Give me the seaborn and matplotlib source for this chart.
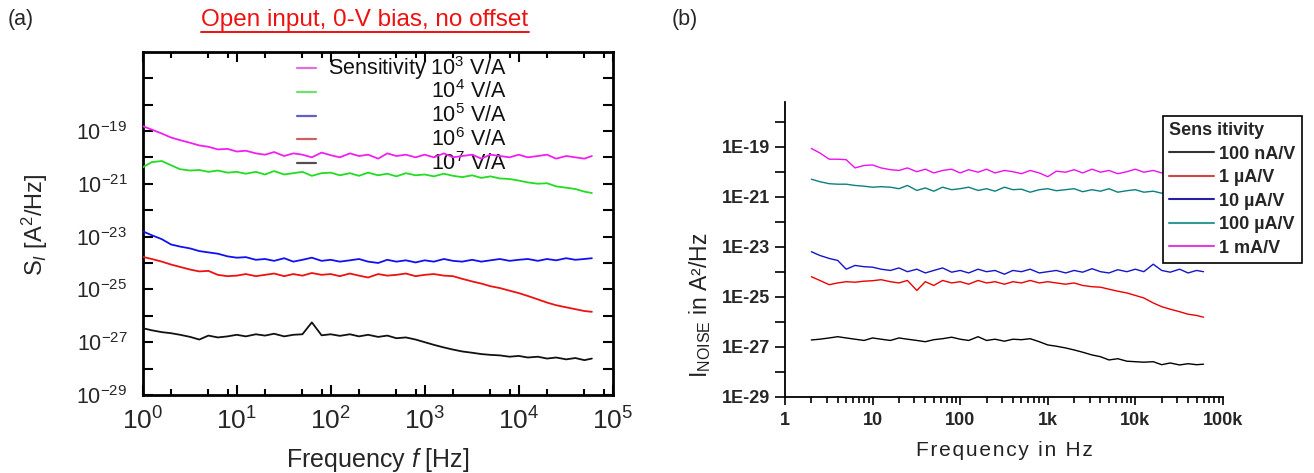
import numpy as np
import matplotlib
matplotlib.use("Agg")
import matplotlib.pyplot as plt
import seaborn as sns
from matplotlib.lines import Line2D
from matplotlib.ticker import FixedLocator, NullLocator, NullFormatter

# ---------------- data (log10 of spectral density) ----------------
FREQ = [1, 1.25, 1.6, 2, 2.5, 3.2, 4, 5, 6.3, 8,
        10, 12.5, 16, 20, 25, 32, 40, 50, 63, 80,
        100, 125, 160, 200, 250, 320, 400, 500, 630, 800,
        1000, 1250, 1600, 2000, 2500, 3200, 4000, 5000, 6300, 8000,
        10000, 12500, 16000, 20000, 25000, 32000, 40000, 50000, 60000]

# panel (a)
A_1E3 = [-18.82, -18.95, -19.1, -19.25, -19.35, -19.45, -19.55, -19.6, -19.7, -19.68,
         -19.78, -19.75, -19.85, -19.9, -19.8, -19.95, -19.85, -19.9, -20.0, -19.82,
         -19.92, -20.0, -19.85, -19.95, -19.9, -20.05, -19.85, -19.95, -19.9, -20.0,
         -19.9, -20.0, -19.85, -20.0, -19.95, -19.9, -20.05, -19.9, -19.95, -20.0,
         -19.9, -20.0, -19.95, -19.9, -20.05, -19.95, -20.0, -20.05, -19.95]
A_1E4 = [-20.38, -20.18, -20.14, -20.3, -20.45, -20.5, -20.48, -20.55, -20.5, -20.58,
         -20.55, -20.62, -20.55, -20.65, -20.52, -20.65, -20.6, -20.55, -20.7, -20.6,
         -20.58, -20.68, -20.6, -20.7, -20.58, -20.68, -20.62, -20.72, -20.6, -20.68,
         -20.65, -20.72, -20.62, -20.7, -20.75, -20.68, -20.78, -20.72, -20.8, -20.82,
         -20.88, -20.95, -21.0, -20.98, -21.1, -21.15, -21.2, -21.3, -21.35]
A_1E5 = [-22.8, -22.95, -23.1, -23.3, -23.38, -23.45, -23.55, -23.6, -23.65, -23.75,
         -23.8, -23.78, -23.88, -23.85, -23.92, -23.82, -23.95, -23.88, -23.8, -23.92,
         -23.88, -23.95, -23.9, -23.85, -23.95, -24.0, -23.88, -23.95, -23.9, -23.98,
         -23.9, -23.95, -23.85, -23.92, -23.95, -23.88, -23.95, -23.9, -23.85, -23.92,
         -23.88, -23.85, -23.92, -23.85, -23.9, -23.82, -23.88, -23.85, -23.82]
A_1E6 = [-23.77, -23.85, -23.95, -24.06, -24.15, -24.25, -24.32, -24.3, -24.45, -24.5,
         -24.48, -24.42, -24.5, -24.45, -24.4, -24.5, -24.42, -24.48, -24.38, -24.45,
         -24.42, -24.5, -24.4, -24.48, -24.55, -24.42, -24.48, -24.45, -24.4, -24.5,
         -24.45, -24.42, -24.48, -24.5, -24.6, -24.7, -24.78, -24.88, -24.95, -25.05,
         -25.14, -25.25, -25.38, -25.5, -25.6, -25.68, -25.75, -25.82, -25.85]
A_1E7 = [-26.47, -26.55, -26.62, -26.66, -26.72, -26.8, -26.9, -26.75, -26.82, -26.78,
         -26.72, -26.78, -26.7, -26.75, -26.68, -26.78, -26.72, -26.7, -26.25, -26.74,
         -26.7, -26.76, -26.7, -26.78, -26.72, -26.8, -26.75, -26.85, -26.82, -26.9,
         -27.0, -27.1, -27.2, -27.28, -27.35, -27.4, -27.45, -27.48, -27.5, -27.55,
         -27.52, -27.58, -27.55, -27.62, -27.58, -27.65, -27.6, -27.68, -27.62]
A_LABELS = ["Sensitivity $10^3$ V/A", "$10^4$ V/A", "$10^5$ V/A", "$10^6$ V/A", "$10^7$ V/A"]
A_COLORS = ["#f020f0", "#22dd22", "#1010f0", "#ee1111", "#111111"]
A_LEG_COLORS = ["#e070e0", "#70e070", "#6060c8", "#d06060", "#505050"]
A_YTICK_EXP = list(range(-29, -16))
A_YLABEL_EXP = [-29, -27, -25, -23, -21, -19]

# panel (b) (starts at 2 Hz)
FREQ_B = FREQ[3:]
B_100N = [-26.73, -26.7, -26.65, -26.6, -26.65, -26.7, -26.75,
          -26.65, -26.7, -26.75, -26.65, -26.7, -26.75, -26.8, -26.72, -26.68, -26.62,
          -26.7, -26.75, -26.6, -26.75, -26.7, -26.78, -26.7, -26.72, -26.68, -26.8,
          -26.93, -26.98, -27.05, -27.13, -27.22, -27.33, -27.4, -27.53, -27.48, -27.58,
          -27.6, -27.62, -27.6, -27.72, -27.65, -27.73, -27.68, -27.72, -27.7]
B_1U = [-24.2, -24.35, -24.52, -24.45, -24.4, -24.42, -24.38,
        -24.36, -24.32, -24.4, -24.45, -24.35, -24.75, -24.4, -24.55, -24.35, -24.45,
        -24.4, -24.5, -24.35, -24.45, -24.4, -24.5, -24.4, -24.45, -24.35, -24.45,
        -24.4, -24.45, -24.5, -24.45, -24.55, -24.6, -24.62, -24.7, -24.78, -24.85,
        -24.95, -25.05, -25.25, -25.4, -25.5, -25.6, -25.7, -25.75, -25.82]
B_10U = [-23.2, -23.35, -23.47, -23.55, -23.9, -23.75, -23.8,
         -23.82, -23.9, -23.95, -23.85, -24.0, -23.9, -24.05, -23.95, -23.85, -24.02,
         -23.95, -24.05, -23.9, -24.0, -23.95, -24.1, -23.95, -24.0, -23.9, -24.05,
         -24.0, -23.95, -24.05, -23.95, -24.02, -23.88, -24.0, -24.05, -23.92, -24.0,
         -23.9, -24.0, -23.7, -23.95, -24.02, -23.9, -24.05, -23.95, -24.0]
B_100U = [-20.3, -20.4, -20.48, -20.5, -20.5, -20.55, -20.58,
          -20.62, -20.6, -20.62, -20.68, -20.55, -20.75, -20.65, -20.78, -20.62, -20.72,
          -20.68, -20.62, -20.75, -20.68, -20.78, -20.62, -20.72, -20.7, -20.82, -20.72,
          -20.68, -20.76, -20.72, -20.68, -20.8, -20.72, -20.78, -20.68, -20.82, -20.76,
          -20.72, -20.82, -20.78, -20.86, -20.8, -20.85, -20.82, -20.86, -20.88]
B_1M = [-19.07, -19.25, -19.5, -19.5, -19.52, -19.85, -19.75,
        -19.73, -19.85, -19.92, -19.95, -19.85, -20.0, -19.9, -20.05, -19.95, -19.9,
        -20.05, -19.92, -20.02, -19.9, -20.05, -19.95, -20.0, -20.08, -19.95, -20.05,
        -20.2, -19.98, -20.02, -19.92, -20.05, -19.9, -20.02, -19.95, -20.08, -20.0,
        -19.9, -20.02, -19.95, -20.05, -19.95, -20.02, -19.92, -20.0, -20.05]
B_LABELS = ["100 nA/V", "1 \u00b5A/V", "10 \u00b5A/V", "100 \u00b5A/V", "1 mA/V"]
B_COLORS = ["#000000", "#ee0000", "#1515c8", "#0a8080", "#ee10ee"]
B_LEG_COLORS = ["#333333", "#d44444", "#2222a8", "#339999", "#e040e0"]
B_YTICKS = [1e-29, 1e-27, 1e-25, 1e-23, 1e-21, 1e-19]
B_YLABELS = ["1E-29", "1E-27", "1E-25", "1E-23", "1E-21", "1E-19"]
B_XTICKS = [1, 10, 100, 1000, 10000, 100000]
B_XLABELS = ["1", "10", "100", "1k", "10k", "100k"]

# ---------------- style ----------------
sns.set_style("ticks")
plt.rcParams["font.family"] = ["Liberation Sans", "DejaVu Sans"]
plt.rcParams["mathtext.fontset"] = "custom"
plt.rcParams["mathtext.rm"] = "Liberation Sans"
plt.rcParams["mathtext.it"] = "Liberation Sans:italic"
plt.rcParams["mathtext.bf"] = "Liberation Sans:bold"

fig = plt.figure(figsize=(13.14, 4.73), dpi=100)

# ================= panel (a) =================
axa = fig.add_axes([0.1086, 0.1649, 0.3577, 0.7258])
for vals, col in zip([A_1E3, A_1E4, A_1E5, A_1E6, A_1E7], A_COLORS):
    sns.lineplot(x=FREQ, y=10.0 ** np.array(vals), ax=axa, color=col, lw=1.3,
                 legend=False, sort=False, estimator=None, zorder=3)
axa.set_xscale("log")
axa.set_yscale("log")
axa.set_xlim(1, 1e5)
axa.set_ylim(1e-29, 1e-16)
for sp in axa.spines.values():
    sp.set_linewidth(2.0)
    sp.set_color("black")
axa.set_xticks([1, 10, 100, 1e3, 1e4, 1e5],
               ["$10^{0}$", "$10^{1}$", "$10^{2}$", "$10^{3}$", "$10^{4}$", "$10^{5}$"])
axa.xaxis.set_minor_locator(FixedLocator([m * d for d in [1, 10, 100, 1e3, 1e4] for m in (2, 5, 8)]))
axa.xaxis.set_minor_formatter(NullFormatter())
yt = [10.0 ** e for e in A_YTICK_EXP]
ylab = [("$10^{%d}$" % e) if e in A_YLABEL_EXP else "" for e in A_YTICK_EXP]
axa.set_yticks(yt, ylab)
axa.yaxis.set_minor_locator(NullLocator())
axa.tick_params(which="both", direction="in", top=True, right=True, width=1.5, color="black")
axa.tick_params(which="major", length=7)
axa.tick_params(which="minor", length=4)
axa.tick_params(axis="x", labelsize=19, pad=9)
axa.tick_params(axis="y", labelsize=15.5, pad=11)
axa.set_xlabel("Frequency $f$ [Hz]", fontsize=18)
axa.xaxis.set_label_coords(0.50, -0.149)
axa.set_ylabel("S$_{\\mathit{I}}$ [A$^2$/Hz]", fontsize=17)
axa.yaxis.set_label_coords(-0.197, 0.495)

# manual gnuplot-style key (right-justified labels)
key_rows = [0.9516, 0.8835, 0.8136, 0.7448, 0.6749]
for y, lab, col in zip(key_rows, A_LABELS, A_LEG_COLORS):
    axa.add_line(Line2D([0.328, 0.369], [y, y], transform=axa.transAxes, color=col, lw=1.6, zorder=2))
    axa.text(0.7745, y, lab, transform=axa.transAxes, ha="right", va="center",
             fontsize=15.5, color="#111111", zorder=1.5)

fig.text(21 / 1314, 1 - 19 / 473, "(a)", fontsize=15.5, ha="center", va="center")
title = fig.text(365 / 1314, 1 - 20 / 473, "Open input, 0-V bias, no offset",
                 fontsize=17.5, color="#ee1111", ha="center", va="center")

# ================= panel (b) =================
axb = fig.add_axes([0.5974, 0.1613, 0.3333, 0.6237])
for vals, col in zip([B_100N, B_1U, B_10U, B_100U, B_1M], B_COLORS):
    sns.lineplot(x=FREQ_B, y=10.0 ** np.array(vals), ax=axb, color=col, lw=1.0,
                 legend=False, sort=False, estimator=None)
axb.set_xscale("log")
axb.set_yscale("log")
axb.set_xlim(1, 1e5)
axb.set_ylim(1e-29, 10 ** -17.2)
axb.spines["top"].set_visible(False)
axb.spines["right"].set_visible(False)
for s in ("left", "bottom"):
    axb.spines[s].set_linewidth(1.3)
    axb.spines[s].set_color("black")
axb.set_xticks(B_XTICKS, B_XLABELS)
axb.xaxis.set_minor_locator(FixedLocator([m * d for d in [1, 10, 100, 1e3, 1e4] for m in range(2, 10)]))
axb.xaxis.set_minor_formatter(NullFormatter())
axb.set_yticks(B_YTICKS, B_YLABELS)
axb.yaxis.set_minor_locator(FixedLocator([1e-28, 1e-26, 1e-24, 1e-22, 1e-20, 1e-18]))
axb.yaxis.set_minor_formatter(NullFormatter())
axb.tick_params(which="both", direction="out", width=1.2, color="black")
axb.tick_params(axis="x", which="major", length=6, pad=5)
axb.tick_params(axis="x", which="minor", length=4)
axb.tick_params(axis="y", which="both", length=7, pad=4)
for t in axb.get_xticklabels() + axb.get_yticklabels():
    t.set_fontweight("bold")
    t.set_fontsize(13)
axb.set_xlabel("F\u200ar\u200ae\u200aq\u200au\u200ae\u200an\u200ac\u200ay\u200a \u200ai\u200an\u200a \u200aH\u200az",
               fontsize=15, color="#222222")
axb.xaxis.set_label_coords(0.502, -0.150)
axb.set_ylabel("I$_{\\mathregular{NOISE}}$ in A\u00b2/Hz", fontsize=16.5, color="#222222")
axb.yaxis.set_label_coords(-0.164, 0.309)

handles = [Line2D([], [], color=c, lw=1.5) for c in B_LEG_COLORS]
leg = axb.legend(handles, B_LABELS, title="Sens itivity", loc="upper left",
                 bbox_to_anchor=(0.862, 0.9525), borderaxespad=0, frameon=True,
                 fancybox=False, edgecolor="black", framealpha=1, facecolor="white",
                 prop={"weight": "bold", "size": 13},
                 title_fontproperties={"weight": "bold", "size": 13},
                 alignment="left", handlelength=2.5, handletextpad=0.3,
                 labelspacing=0.36, borderpad=0.35)
leg.get_frame().set_linewidth(1.2)
leg.set_zorder(5)

fig.text(685 / 1314, 1 - 19 / 473, "(b)", fontsize=15.5, ha="center", va="center")

# underline for the red title
fig.canvas.draw()
bb = title.get_window_extent(renderer=fig.canvas.get_renderer())
W, H = fig.get_size_inches() * fig.dpi
uy = (bb.y0 - 1.0) / H
fig.add_artist(Line2D([bb.x0 / W, bb.x1 / W], [uy, uy], transform=fig.transFigure,
                      color="#ee1111", lw=1.4))

fig.savefig("out.png", dpi=100)
